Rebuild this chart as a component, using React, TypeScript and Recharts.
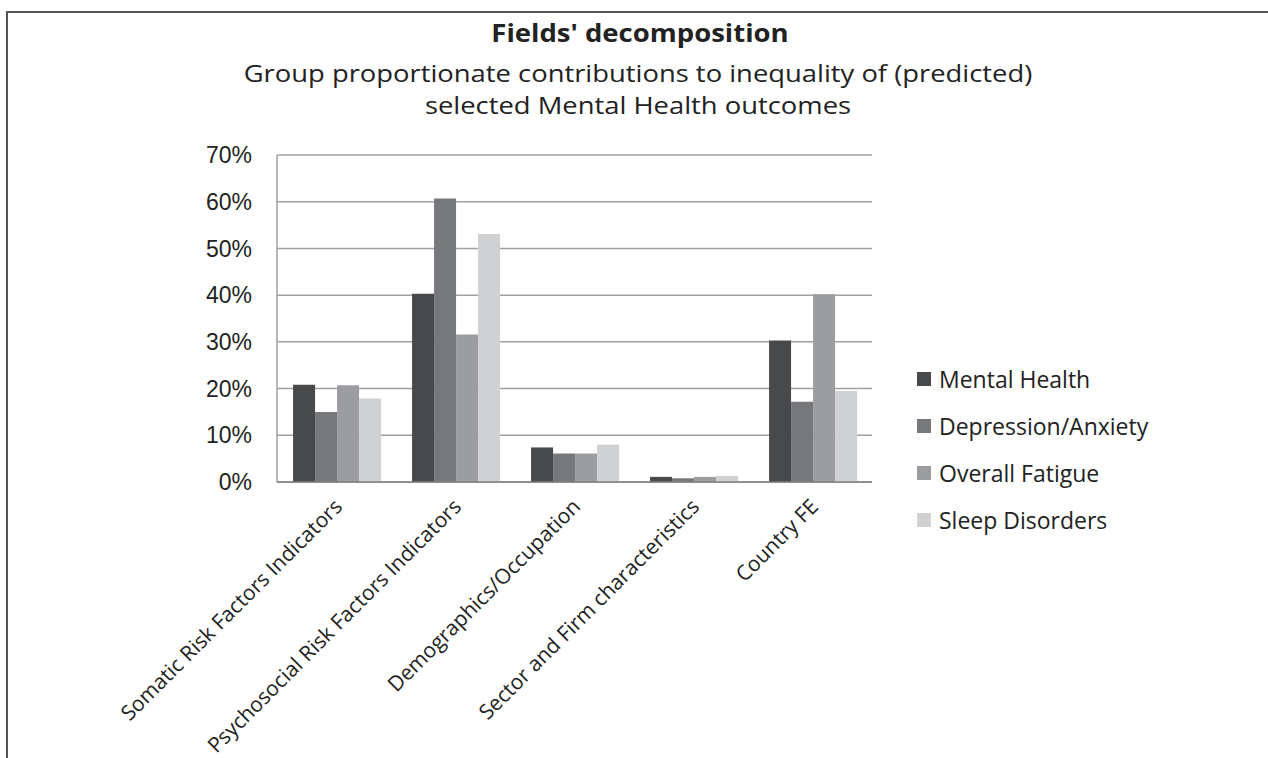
import React from 'react'
import {
  BarChart, Bar, XAxis, YAxis, CartesianGrid, Legend,
} from 'recharts'

const categories = [
  'Somatic Risk Factors Indicators',
  'Psychosocial Risk Factors Indicators',
  'Demographics/Occupation',
  'Sector and Firm characteristics',
  'Country FE',
]
const mentalHealth = [20.8, 40.3, 7.4, 1.1, 30.3]
const depressionAnxiety = [15.0, 60.7, 6.1, 0.8, 17.2]
const overallFatigue = [20.7, 31.6, 6.1, 1.1, 40.2]
const sleepDisorders = [17.9, 53.1, 8.0, 1.3, 19.5]
const yTicks = [0, 10, 20, 30, 40, 50, 60, 70]

const series = [
  { key: 'mh', name: 'Mental Health', color: '#48494b' },
  { key: 'da', name: 'Depression/Anxiety', color: '#77787b' },
  { key: 'of', name: 'Overall Fatigue', color: '#9c9da0' },
  { key: 'sd', name: 'Sleep Disorders', color: '#d0d1d3' },
]

const data = categories.map((name, i) => ({
  name,
  mh: mentalHealth[i],
  da: depressionAnxiety[i],
  of: overallFatigue[i],
  sd: sleepDisorders[i],
}))

const font = '"Open Sans", sans-serif'

function XTick(props: any) {
  const { x, y, payload } = props
  const ax = x + 7
  const ay = y + 26
  return (
    <text x={ax} y={ay} transform={`rotate(-45 ${ax} ${ay})`} textAnchor="end"
      fontSize={21} fontFamily={font} fill="#222">
      {payload.value}
    </text>
  )
}

function LegendBox() {
  return (
    <div style={{ fontFamily: font, fontSize: 23, color: '#222' }}>
      {series.map(s => (
        <div key={s.key} style={{ display: 'flex', alignItems: 'center', height: 47 }}>
          <span style={{ width: 14, height: 14, background: s.color, marginRight: 8, display: 'inline-block' }} />
          <span>{s.name}</span>
        </div>
      ))}
    </div>
  )
}

export default function App() {
  return (
    <div style={{ position: 'absolute', left: 0, top: 0, width: 1268, height: 758, overflow: 'hidden', background: '#fff' }}>
      <div style={{
        position: 'absolute', left: 6, top: 11, width: 1300, height: 800,
        border: '2px solid #555', boxSizing: 'border-box',
      }} />
      <div style={{ position: 'absolute', left: 0, top: 0, width: 1268, textAlign: 'center', fontFamily: font, color: '#222' }}>
        <div style={{ position: 'absolute', left: 0, width: 1280, top: 15, fontSize: 25, fontWeight: 700, transform: 'scaleX(1.1)', transformOrigin: '640px 0' }}>
          Fields' decomposition
        </div>
        <div style={{ position: 'absolute', left: 0, width: 1276, top: 57, fontSize: 23, lineHeight: '32px', transform: 'scaleX(1.19)', transformOrigin: '638px 0' }}>
          Group proportionate contributions to inequality of (predicted)<br />
          selected Mental Health outcomes
        </div>
      </div>
      <BarChart width={1268} height={758} data={data}
        margin={{ top: 155, right: 396, bottom: 76, left: 217 }}
        barCategoryGap="13.5%" barGap={0} style={{ position: 'absolute', left: 0, top: 0 }}>
        <CartesianGrid vertical={false} stroke="#a0a0a0" strokeWidth={1.5} />
        <XAxis dataKey="name" height={200} interval={0} tick={<XTick />}
          tickLine={false} tickSize={0} tickMargin={0} axisLine={{ stroke: '#808080', strokeWidth: 1.5 }} />
        <YAxis width={60} domain={[0, 70]} ticks={yTicks} tickFormatter={(v: number) => `${v}%`}
          tickLine={false} tickSize={0} tickMargin={25} axisLine={{ stroke: '#a0a0a0', strokeWidth: 1.5 }}
          tick={{ fontFamily: '"Liberation Sans", Arial, sans-serif', fontSize: 23, fill: '#222' }} />
        {series.map(s => (
          <Bar key={s.key} dataKey={s.key} name={s.name} fill={s.color} isAnimationActive={false} />
        ))}
        <Legend layout="vertical" align="center" verticalAlign="middle" content={<LegendBox />}
          wrapperStyle={{ left: 917, top: 355, width: 300 }} />
      </BarChart>
    </div>
  )
}
